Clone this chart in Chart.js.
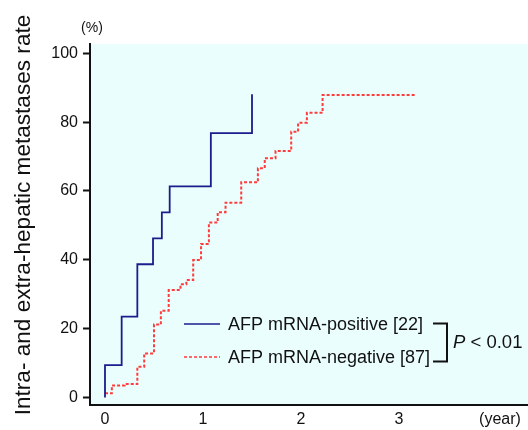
<!DOCTYPE html>
<html>
<head>
<meta charset="utf-8">
<script src="https://cdn.jsdelivr.net/npm/chart.js@4/dist/chart.umd.min.js"></script>
<style>
  html, body { margin: 0; padding: 0; background: #fff; }
  canvas { display: block; }
</style>
</head>
<body>
<canvas id="chart" width="528" height="430"></canvas>
<script>
// Kaplan-Meier style steps
const posYears = [0, 0, 0.17, 0.33, 0.49, 0.58, 0.66, 1.08, 1.50];
const posRates = [0, 9.4, 23.5, 38.7, 46.2, 53.8, 61.3, 76.8, 88.1];

const negYears = [0, 0.07, 0.20, 0.33, 0.40, 0.50, 0.57, 0.65, 0.77, 0.83, 0.90, 0.98,
                  1.06, 1.15, 1.23, 1.39, 1.56, 1.63, 1.74, 1.90, 1.97, 2.06, 2.22, 3.16];
const negRates = [1.2, 3.5, 3.9, 8.9, 12.8, 21.2, 25.2, 31.2, 32.9, 34.1, 39.9, 44.6,
                  50.8, 53.8, 56.6, 62.5, 66.6, 69.5, 71.6, 77.2, 79.8, 82.7, 87.9, 87.9];

const seriesLabels = ['AFP mRNA-positive [22]', 'AFP mRNA-negative [87]'];
const yTicks = [0, 20, 40, 60, 80, 100];
const xTicks = [0, 1, 2, 3];
const yTitle = 'Intra- and extra-hepatic metastases rate';

const FONT = "'Liberation Sans', Arial, Helvetica, sans-serif";
Chart.defaults.font.family = FONT;
Chart.defaults.color = '#111';

function toPoints(xs, ys) {
    return xs.map((x, i) => ({ x: x, y: ys[i] }));
}

// background + extra texts, legend and bracket
const decorPlugin = {
    id: 'decor',
    beforeDraw(chart) {
        const { ctx, chartArea: a } = chart;
        ctx.save();
        ctx.fillStyle = '#ebfefe';
        ctx.fillRect(a.left, a.top, a.right - a.left, a.bottom - a.top);
        ctx.restore();
    },
    afterDraw(chart) {
        const ctx = chart.ctx;
        ctx.save();
        ctx.fillStyle = '#111';

        // y title
        ctx.save();
        ctx.translate(30, 215);
        ctx.rotate(-Math.PI / 2);
        ctx.font = '22.6px ' + FONT;
        ctx.textAlign = 'center';
        ctx.textBaseline = 'alphabetic';
        ctx.fillText(yTitle, 0, 0);
        ctx.restore();

        ctx.font = '14px ' + FONT;
        ctx.textAlign = 'center';
        ctx.textBaseline = 'middle';
        ctx.fillText('(%)', 92, 28);

        ctx.font = '16px ' + FONT;
        ctx.fillText('(year)', 500, 420);

        // legend
        const ds = chart.data.datasets;
        const rows = [324, 357];
        ds.forEach((d, i) => {
            const y = rows[i];
            ctx.save();
            ctx.strokeStyle = d.borderColor;
            ctx.lineWidth = 1.5;
            ctx.setLineDash(d.borderDash || []);
            ctx.beginPath();
            ctx.moveTo(184, y);
            ctx.lineTo(220, y);
            ctx.stroke();
            ctx.restore();
            ctx.font = '18px ' + FONT;
            ctx.textAlign = 'left';
            ctx.textBaseline = 'middle';
            ctx.fillText(d.label, 228, y + 1);
        });

        // bracket
        ctx.strokeStyle = '#111';
        ctx.lineWidth = 2;
        ctx.beginPath();
        ctx.moveTo(433, 323.5);
        ctx.lineTo(447, 323.5);
        ctx.lineTo(447, 361.5);
        ctx.lineTo(433, 361.5);
        ctx.stroke();

        ctx.textAlign = 'left';
        ctx.textBaseline = 'middle';
        ctx.font = 'italic 18.5px ' + FONT;
        ctx.fillText('P', 453, 343);
        const pw = ctx.measureText('P').width;
        ctx.font = '18.5px ' + FONT;
        ctx.fillText(' < 0.01', 453 + pw, 343);
        ctx.restore();
    }
};

new Chart(document.getElementById('chart'), {
    type: 'line',
    data: {
        datasets: [
            {
                label: seriesLabels[0],
                data: toPoints(posYears, posRates),
                borderColor: '#1c1c8c',
                borderWidth: 1.8,
                stepped: 'before',
                pointRadius: 0,
                fill: false
            },
            {
                label: seriesLabels[1],
                data: toPoints(negYears, negRates),
                borderColor: '#ff3b3b',
                borderWidth: 2,
                borderDash: [3, 2],
                stepped: 'before',
                pointRadius: 0,
                fill: false
            }
        ]
    },
    options: {
        responsive: false,
        animation: false,
        events: [],
        layout: { padding: { top: 44, right: 0, bottom: 0, left: 0 } },
        plugins: {
            legend: { display: false },
            tooltip: { enabled: false }
        },
        scales: {
            x: {
                type: 'linear',
                min: -0.153,
                max: 4.316,
                afterBuildTicks: s => { s.ticks = xTicks.map(v => ({ value: v })); },
                afterFit: s => { s.height = 25; },
                grid: { drawOnChartArea: false, drawTicks: false },
                border: { display: true, color: '#111', width: 2 },
                ticks: { padding: 5, font: { size: 16 }, color: '#111', maxRotation: 0 }
            },
            y: {
                type: 'linear',
                min: -2.2,
                max: 102.7,
                afterBuildTicks: s => { s.ticks = yTicks.map(v => ({ value: v })); },
                afterFit: s => { s.width = 90; },
                grid: { drawOnChartArea: false, drawTicks: true, tickLength: 7, tickWidth: 2, tickColor: '#111' },
                border: { display: true, color: '#111', width: 2 },
                ticks: { padding: 5, font: { size: 16 }, color: '#111' }
            }
        }
    },
    plugins: [decorPlugin]
});
</script>
</body>
</html>
